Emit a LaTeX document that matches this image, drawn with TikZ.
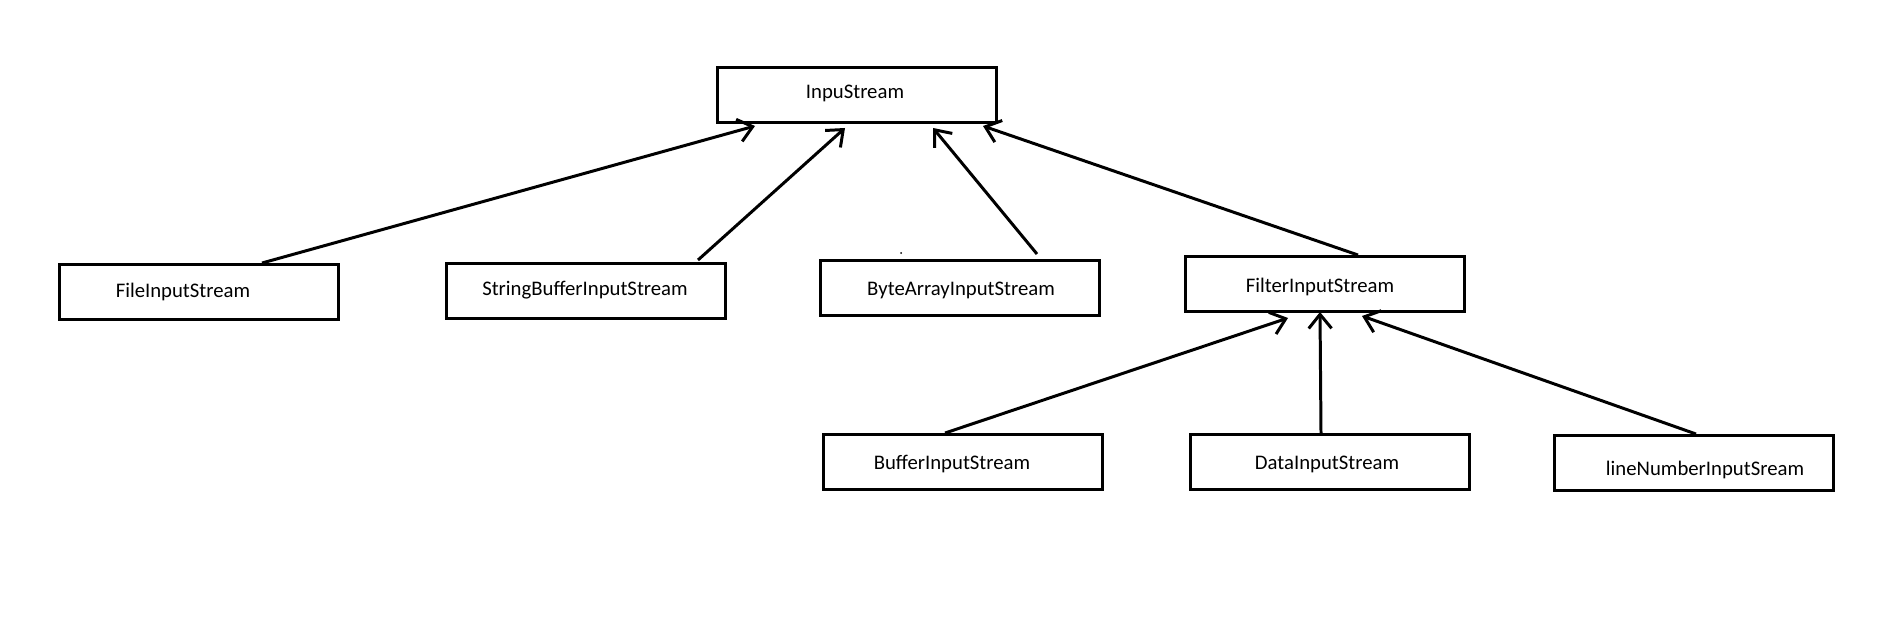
\documentclass[tikz,border=0pt]{standalone}
\usepackage{fontspec}
\setmainfont{Carlito}
\usetikzlibrary{arrows.meta, calc}

\begin{document}
\begin{tikzpicture}[x=0.02cm, y=-0.02cm,
  cls/.style={rectangle, draw=black, line width=1.7pt,
    minimum width=5.58cm, minimum height=1.1cm, inner sep=0pt},
  txt/.style={font=\fontsize{11.8}{14}\selectfont, inner sep=0pt},
  ar/.style={-{Straight Barb[length=8pt, width=13pt, line width=1.7pt]},
    line width=1.7pt}
]
  \useasboundingbox (0,0) rectangle (1886,633);

  % class boxes
  \node[cls] (input)   at (857,95)  {};
  \node[cls] (file)    at (199,292) {};
  \node[cls] (strbuf)  at (586,291) {};
  \node[cls] (bytearr) at (960,288) {};
  \node[cls] (filter)  at (1325,284) {};
  \node[cls] (buffer)  at (963,462) {};
  \node[cls] (data)    at (1330,462) {};
  \node[cls] (linenum) at (1694,463) {};

  % class names
  \node[txt] (inputT)   at (855,93)   {InpuStream};
  \node[txt] (fileT)    at (183,292)  {FileInputStream};
  \node[txt] (strbufT)  at (585,290)  {StringBufferInputStream};
  \node[txt] (bytearrT) at (961,290)  {ByteArrayInputStream};
  \node[txt] (filterT)  at (1320,287) {FilterInputStream};
  \node[txt] (bufferT)  at (952,464)  {BufferInputStream};
  \node[txt] (dataT)    at (1327,464) {DataInputStream};
  \node[txt] (linenumT) at (1705,470) {lineNumberInputSream};

  % inheritance arrows
  \foreach \s/\sx/\sy/\p/\px/\py in {
      file/63/0/input/-102/2, strbuf/112/-2/input/-12/4,
      bytearr/77/-5/input/76/4, filter/33/0/input/126/2,
      buffer/-18/0/filter/-37/5, data/-9/0/filter/-5/-1,
      linenum/2/0/filter/37/3}{
    \draw[ar] ($(\s.north)+(\sx,\sy)$) -- ($(\p.south)+(\px,\py)$);
  }

  \fill (901,253) circle (1);
\end{tikzpicture}
\end{document}
